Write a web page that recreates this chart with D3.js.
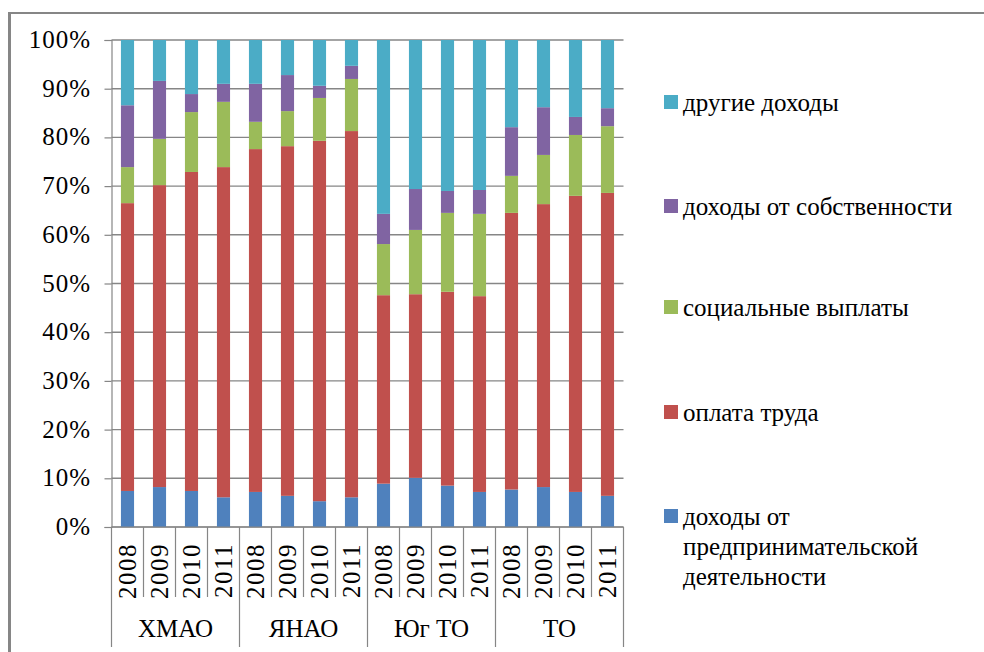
<!DOCTYPE html>
<html>
<head>
<meta charset="utf-8">
<script src="https://cdn.jsdelivr.net/npm/d3@7"></script>
<style>
  svg text { font-family: 'Liberation Serif', 'Tinos', 'FreeSerif', 'DejaVu Serif'; }
</style>
</head>
<body style="margin:0">
<svg id="chart" width="984" height="652"></svg>
<script>
// regions and years on the x axis
const groups = ["ХМАО", "ЯНАО", "Юг ТО", "ТО"];
const years = ["2008", "2009", "2010", "2011"];
const yTicks = [0, 0.1, 0.2, 0.3, 0.4, 0.5, 0.6, 0.7, 0.8, 0.9, 1];

// series, bottom to top (percent of total income)
const seriesNames = ["доходы от предпринимательской деятельности", "оплата труда",
    "социальные выплаты", "доходы от собственности", "другие доходы"];
const business = [7.4, 8.2, 7.4, 6.1, 7.2, 6.4, 5.3, 6.1, 8.9, 10.1, 8.5, 7.2, 7.7, 8.2, 7.2, 6.4];
const wages = [59.1, 62.0, 65.5, 67.8, 70.4, 71.8, 74.0, 75.2, 38.7, 37.7, 39.8, 40.2, 56.8, 58.1, 60.8, 62.2];
const social = [7.4, 9.5, 12.3, 13.4, 5.6, 7.2, 8.8, 10.7, 10.5, 13.2, 16.2, 16.9, 7.6, 10.1, 12.5, 13.7];
const property = [12.7, 11.9, 3.7, 3.7, 7.8, 7.4, 2.5, 2.7, 6.2, 8.4, 4.5, 4.9, 10.0, 9.8, 3.7, 3.7];
const other = [13.4, 8.4, 11.1, 9.0, 9.0, 7.2, 9.4, 5.3, 35.7, 30.6, 31.0, 30.8, 17.9, 13.8, 15.8, 14.0];
const colors = ["#4f81bd", "#c0504d", "#9bbb59", "#8064a2", "#4bacc6"];

const seriesValues = [business, wages, social, property, other];
const rows = [];
groups.forEach((g, gi) => years.forEach((yr, yi) => {
    const i = gi * years.length + yi;
    const row = {key: g + "-" + yr, group: g, year: yr};
    seriesValues.forEach((vals, s) => row["s" + s] = vals[i]);
    rows.push(row);
}));

const svg = d3.select("#chart");
const plotLeft = 111.5, plotRight = 623.5, plotTop = 40, plotBottom = 527;
const grey = "#868686";

const serifText = sel => sel
    .style("font-family", "'Liberation Serif', 'Tinos', 'FreeSerif', 'DejaVu Serif'")
    .attr("font-size", 25)
    .attr("fill", "#000");

const x = d3.scaleBand()
    .domain(rows.map(d => d.key))
    .range([plotLeft, plotRight])
    .paddingInner(0.59)
    .paddingOuter(0.295);

const y = d3.scaleLinear().domain([0, 1]).range([plotBottom, plotTop]);

// chart area border (only left and top visible)
svg.append("line").attr("x1", 9.5).attr("x2", 9.5).attr("y1", 12).attr("y2", 652)
    .attr("stroke", grey).attr("stroke-width", 3);
svg.append("line").attr("x1", 8).attr("x2", 984).attr("y1", 13).attr("y2", 13)
    .attr("stroke", grey).attr("stroke-width", 2);

// gridlines
svg.append("g").selectAll("line")
    .data(yTicks)
    .enter().append("line")
    .attr("x1", plotLeft).attr("x2", plotRight)
    .attr("y1", d => y(d)).attr("y2", d => y(d))
    .attr("stroke", grey).attr("stroke-width", 1.4);

// stacked bars
const stack = d3.stack()
    .keys(seriesValues.map((v, s) => "s" + s))
    .offset(d3.stackOffsetExpand);

svg.append("g").selectAll("g")
    .data(stack(rows))
    .enter().append("g")
    .attr("fill", (d, i) => colors[i])
    .selectAll("rect")
    .data(d => d)
    .enter().append("rect")
    .attr("x", d => x(d.data.key))
    .attr("width", x.bandwidth())
    .attr("y", d => y(d[1]))
    .attr("height", d => y(d[0]) - y(d[1]));

// y axis: ticks from d3, labels as plain text
const yAxis = svg.append("g")
    .attr("transform", "translate(" + plotLeft + ",0)")
    .call(d3.axisLeft(y).tickValues(yTicks).tickFormat("").tickSize(7));
yAxis.select(".domain").attr("stroke", grey).attr("stroke-width", 1.2);
yAxis.selectAll(".tick line").attr("stroke", grey).attr("stroke-width", 1.2);
svg.selectAll(".ylabel")
    .data(yTicks)
    .enter().append("text")
    .attr("x", 91)
    .attr("y", d => y(d) + 8)
    .attr("text-anchor", "end")
    .attr("letter-spacing", 1)
    .call(serifText)
    .text(d3.format(".0%"));

// x axis: years and groups
const step = x.step();
svg.append("line").attr("x1", plotLeft).attr("x2", plotRight).attr("y1", plotBottom).attr("y2", plotBottom)
    .attr("stroke", grey).attr("stroke-width", 1.2);
svg.selectAll(".sep")
    .data(d3.range(rows.length + 1))
    .enter().append("line")
    .attr("x1", i => plotLeft + i * step).attr("x2", i => plotLeft + i * step)
    .attr("y1", plotBottom)
    .attr("y2", i => i % years.length === 0 ? 647 : 597)
    .attr("stroke", grey).attr("stroke-width", 1.2);

svg.selectAll(".year")
    .data(rows)
    .enter().append("text")
    .attr("transform", d => "translate(" + (x(d.key) + x.bandwidth() / 2 + 8) + ",543) rotate(-90)")
    .attr("text-anchor", "end")
    .attr("letter-spacing", 1.5)
    .call(serifText)
    .text(d => d.year);

svg.selectAll(".group")
    .data(groups)
    .enter().append("text")
    .attr("x", (g, gi) => plotLeft + (gi + 0.5) * years.length * step)
    .attr("y", 637)
    .attr("text-anchor", "middle")
    .call(serifText)
    .text(d => d);

// legend, top to bottom in reverse series order
const legendY = [103, 207, 308, 413, 517];
const legendLines = [["доходы от", "предпринимательской", "деятельности"]];
const legendItems = seriesNames.map((n, i) => ({name: n, color: colors[i], i})).reverse();

svg.selectAll(".swatch")
    .data(legendItems)
    .enter().append("rect")
    .attr("x", 664).attr("y", (d, k) => legendY[k] - 8)
    .attr("width", 14).attr("height", 14)
    .attr("fill", d => d.color);

const legendText = [];
legendItems.forEach((d, k) => {
    (legendLines[d.i] || [d.name]).forEach((line, j) => legendText.push({line, ty: legendY[k] + j * 30}));
});
svg.selectAll(".legendtext")
    .data(legendText)
    .enter().append("text")
    .attr("x", 683)
    .attr("y", d => d.ty + 8)
    .call(serifText)
    .text(d => d.line);
</script>
</body>
</html>
